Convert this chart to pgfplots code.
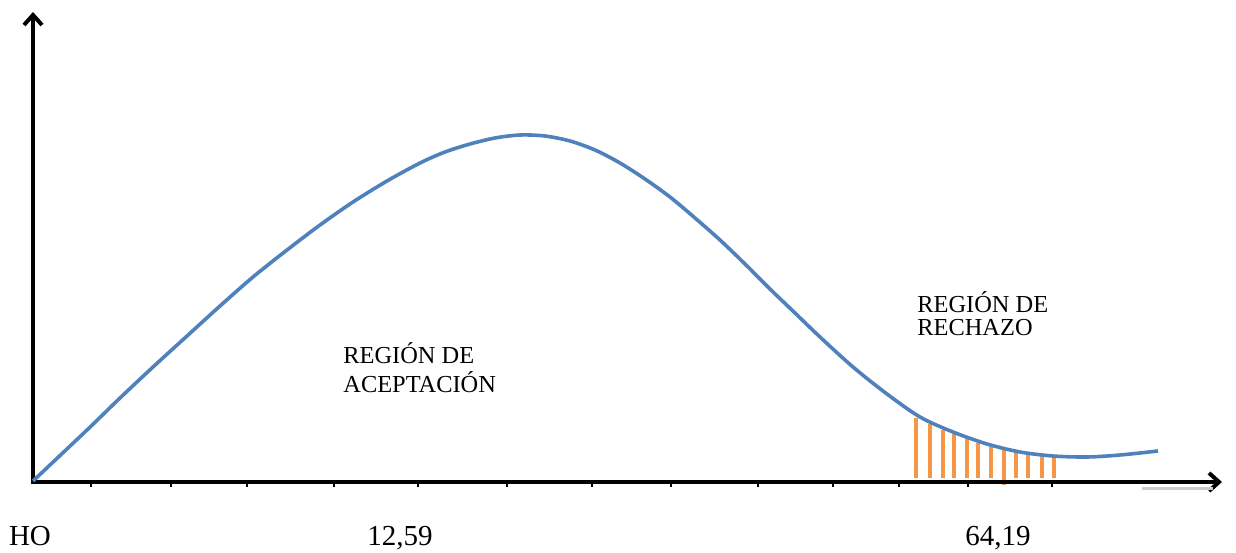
\documentclass[border=0pt]{standalone}
\usepackage{pgfplots}
\pgfplotsset{compat=1.18}
\usetikzlibrary{arrows.meta}
\usepackage{fontspec}
\setmainfont{Liberation Serif}
\definecolor{curveblue}{HTML}{4F81BD}
\definecolor{rejorange}{HTML}{F79646}
\begin{document}
\begin{tikzpicture}
\begin{axis}[x=0.5pt,y=0.5pt,xmin=0,xmax=1236,ymin=-70,ymax=482,
  hide axis,clip=false,enlargelimits=false]
% fixed frame of the picture
\path (axis cs:0,-70) rectangle (axis cs:1236,482);
% rejection region hatching
\addplot[rejorange, line width=2pt, unbounded coords=jump] coordinates {
(916,4) (916,64) (916,nan)
(930,4) (930,58) (930,nan)
(943,4) (943,52) (943,nan)
(954,4) (954,48) (954,nan)
(967,4) (967,43) (967,nan)
(978,4) (978,39) (978,nan)
(991,4) (991,35) (991,nan)
(1004,-3) (1004,32) (1004,nan)
(1016,4) (1016,30) (1016,nan)
(1028,4) (1028,28) (1028,nan)
(1042,4) (1042,27) (1042,nan)
(1054,4) (1054,25)
};
% axes
\draw[line width=2pt, line join=miter,
  {Straight Barb[length=5pt,width=9pt]}-{Straight Barb[length=5pt,width=9pt]}]
  (axis cs:33,470) -- (axis cs:33,0) -- (axis cs:1222,0);
\foreach \t in {91,171,247,334,418,507,592,671,758,833,899,968,1052}{
  \edef\tmp{\noexpand\draw[line width=0.7pt] (axis cs:\t,0) -- (axis cs:\t,-5);}\tmp
}
\draw[gray!40, line width=1.5pt] (axis cs:1142,-6) -- (axis cs:1213,-6);
% curve
\addplot[curveblue, line width=1.8pt, smooth, tension=0.5] coordinates {
(33,1) (87,52) (120,84) (153,115) (187,146) (220,176) (253,205) (287,232)
(320,257) (353,280) (387,301) (420,319) (445,330) (470,338) (495,344) (520,347)
(545,346) (570,341) (595,332) (620,319) (645,303) (670,285) (695,264) (720,242)
(745,218) (770,193) (795,169) (820,145) (853,115) (887,88) (920,65) (953,50)
(987,38) (1020,30) (1053,26) (1087,25) (1120,27) (1158,31)
};
% texts
\node[anchor=base west, font=\fontsize{12.2}{14}\selectfont, inner sep=0pt] at (axis cs:343,119) {REGIÓN DE};
\node[anchor=base west, font=\fontsize{12.2}{14}\selectfont, inner sep=0pt] at (axis cs:343,90) {ACEPTACIÓN};
\node[anchor=base west, font=\fontsize{12.2}{14}\selectfont, inner sep=0pt] at (axis cs:917,170) {REGIÓN DE};
\node[anchor=base west, font=\fontsize{12.2}{14}\selectfont, inner sep=0pt] at (axis cs:917,147) {RECHAZO};
\node[anchor=base, font=\fontsize{14.5}{16}\selectfont, inner sep=0pt] at (axis cs:30,-63) {HO};
\node[anchor=base, font=\fontsize{14.5}{16}\selectfont, inner sep=0pt] at (axis cs:400,-63) {12,59};
\node[anchor=base, font=\fontsize{14.5}{16}\selectfont, inner sep=0pt] at (axis cs:998,-63) {64,19};
\end{axis}
\end{tikzpicture}
\end{document}
